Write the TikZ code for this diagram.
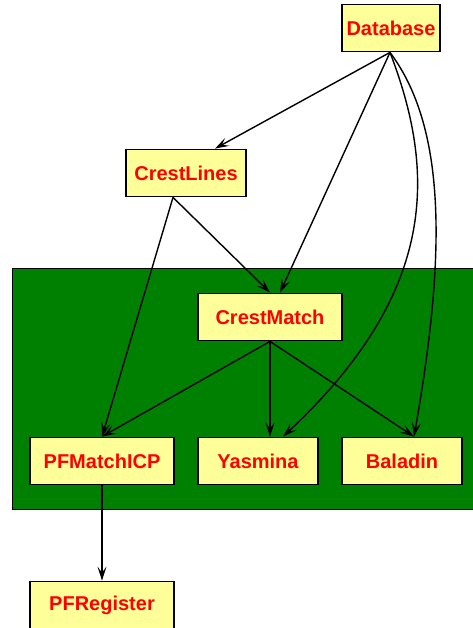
\documentclass[tikz,border=0pt]{standalone}
\usepackage{fontspec}
\setmainfont{Liberation Sans}
\usetikzlibrary{arrows.meta}
\definecolor{boxfill}{RGB}{255,255,153}
\definecolor{clustergreen}{RGB}{0,128,0}
\begin{document}
\begin{tikzpicture}[x=1pt,y=-1pt,
  box/.style={draw=black,line width=1.8pt,fill=boxfill,text=red,font=\bfseries\fontsize{20}{24}\selectfont,minimum height=47pt,inner sep=0pt},
  edge/.style={draw=black,line width=1.4pt,-{Stealth[length=14pt,width=9pt,inset=6pt]}}]
\useasboundingbox (0,0) rectangle (472,628);
\node[draw=black,line width=1pt,fill=clustergreen,minimum width=470pt,minimum height=241pt,anchor=north west,inner sep=0pt] (cl) at (12,268) {};
\node[box,minimum width=98pt] (db) at (391,28) {Database};
\node[box,minimum width=120pt] (cr) at (186,173) {CrestLines};
\node[box,minimum width=144pt] (cm) at (270,317) {CrestMatch};
\node[box,minimum width=144pt] (pf) at (102,461) {PFMatchICP};
\node[box,minimum width=120pt] (ya) at (258,461) {Yasmina};
\node[box,minimum width=120pt] (ba) at (402,461) {Baladin};
\node[box,minimum width=144pt] (pr) at (102,605) {PFRegister};
\coordinate (dbo) at ([xshift=-1pt]db.south);
\coordinate (cro) at ([xshift=-13pt]cr.south);
\draw[edge] (dbo) -- ([xshift=29pt]cr.north);
\draw[edge] (dbo) -- ([xshift=10pt]cm.north);
\draw[edge] (dbo) .. controls (435,170) and (440,290) .. ([xshift=25pt]ya.north);
\draw[edge] (dbo) .. controls (448,130) and (445,260) .. ([xshift=12pt]ba.north);
\draw[edge] (cro) -- (cm.north);
\draw[edge] (cro) -- (pf.north);
\draw[edge] (cm.south) -- (pf.north);
\draw[edge] (cm.south) -- ([xshift=12pt]ya.north);
\draw[edge] (cm.south) -- ([xshift=12pt]ba.north);
\draw[edge] (pf.south) -- (pr.north);
\end{tikzpicture}
\end{document}
